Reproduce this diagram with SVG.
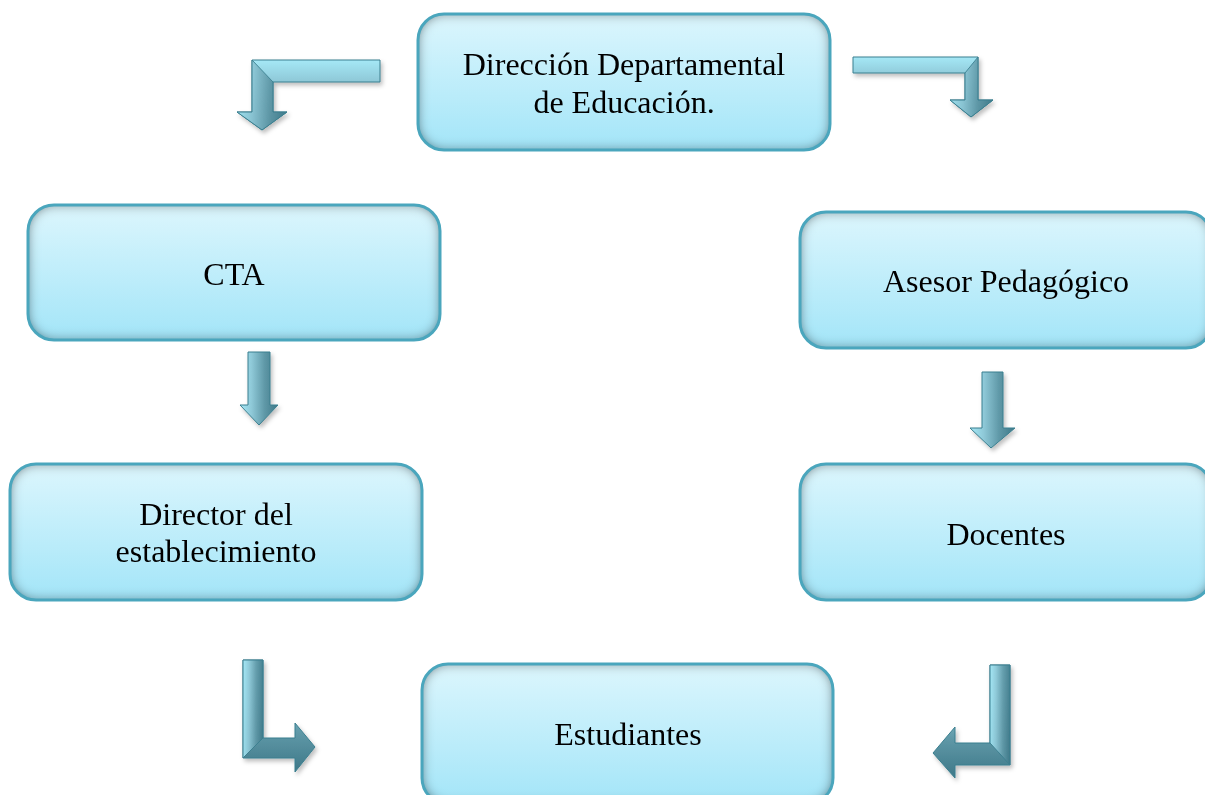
<svg xmlns="http://www.w3.org/2000/svg" width="1205" height="795" viewBox="0 0 1205 795">
<defs>
<style>
.box{fill:url(#bg);filter:url(#inner)}
.edge{fill:none;stroke:#4aa6bd;stroke-width:3}
.lbl{font-family:"Liberation Serif","Times New Roman",serif;font-size:32px;fill:#000;text-anchor:middle}
.arr{stroke:#3b7f8f;stroke-width:1;stroke-linejoin:miter}
</style>
<linearGradient id="bg" x1="0" y1="0" x2="0" y2="1">
<stop offset="0" stop-color="#dcf6fd"/>
<stop offset="1" stop-color="#a3e5f8"/>
</linearGradient>
<linearGradient id="av" x1="0" y1="0" x2="1" y2="0">
<stop offset="0" stop-color="#a5e8f6"/>
<stop offset="0.3" stop-color="#8fc9d8"/>
<stop offset="0.65" stop-color="#5f98a7"/>
<stop offset="1" stop-color="#3e7888"/>
</linearGradient>
<linearGradient id="ah" x1="0" y1="0" x2="0" y2="1">
<stop offset="0" stop-color="#a5e8f6"/>
<stop offset="0.3" stop-color="#8fc9d8"/>
<stop offset="0.65" stop-color="#5f98a7"/>
<stop offset="1" stop-color="#3e7888"/>
</linearGradient>
<filter id="inner" x="-5%" y="-5%" width="110%" height="110%">
<feFlood flood-color="#2c363b" result="c"/>
<feComposite in="c" in2="SourceAlpha" operator="out" result="inv"/>
<feGaussianBlur in="inv" stdDeviation="6" result="blur"/>
<feComposite in="blur" in2="SourceAlpha" operator="in" result="shadow"/>
<feMerge><feMergeNode in="SourceGraphic"/><feMergeNode in="shadow"/></feMerge>
</filter>
<filter id="ds" x="-20%" y="-20%" width="140%" height="140%">
<feDropShadow dx="2" dy="3" stdDeviation="2" flood-color="#000" flood-opacity="0.25"/>
</filter>
</defs>
<rect width="1205" height="795" fill="#fff"/>

<g id="connectors" filter="url(#ds)">
<path class="arr" fill="url(#ah)" d="M380,60 L252,60 L252,112 L237,112 L262,130 L287,112 L273,112 L273,82 L380,82 Z"/>
<path class="arr" fill="url(#av)" d="M252,60 L273,82 L273,112 L287,112 L262,130 L237,112 L252,112 Z" opacity="0.9"/>
<path class="arr" fill="url(#ah)" d="M853,57 L978,57 L978,100 L993,100 L971,117 L950,100 L965,100 L965,73 L853,73 Z"/>
<path class="arr" fill="url(#av)" d="M978,57 L978,100 L993,100 L971,117 L950,100 L965,100 L965,73 Z" opacity="0.9"/>
<path class="arr" fill="url(#av)" d="M248,352 L270,352 L270,405 L278,405 L259,425 L240,405 L248,405 Z"/>
<path class="arr" fill="url(#av)" d="M982,372 L1003,372 L1003,428 L1015,428 L991,448 L970,428 L982,428 Z"/>
<path class="arr" fill="url(#ah)" d="M243,660 L263,660 L263,738 L295,738 L295,723 L315,747 L295,772 L295,758 L243,758 Z"/>
<path class="arr" fill="url(#av)" d="M243,660 L263,660 L263,738 L243,758 Z" opacity="0.9"/>
<path class="arr" fill="url(#ah)" d="M990,665 L1010,665 L1010,765 L955,765 L955,778 L933,753 L955,727 L955,743 L990,743 Z"/>
<path class="arr" fill="url(#av)" d="M990,665 L1010,665 L1010,765 L990,743 Z" opacity="0.9"/>
</g>

<g id="node-direccion">
<rect class="box" x="418" y="14" width="412" height="136" rx="26"/>
<rect class="edge" x="418" y="14" width="412" height="136" rx="26"/>
<text class="lbl" x="624" y="75">Dirección Departamental</text>
<text class="lbl" x="624" y="113">de Educación.</text>
</g>
<g id="node-cta">
<rect class="box" x="28" y="205" width="412" height="135" rx="26"/>
<rect class="edge" x="28" y="205" width="412" height="135" rx="26"/>
<text class="lbl" x="234" y="285">CTA</text>
</g>
<g id="node-asesor">
<rect class="box" x="800" y="212" width="412" height="136" rx="26"/>
<rect class="edge" x="800" y="212" width="412" height="136" rx="26"/>
<text class="lbl" x="1006" y="292">Asesor Pedagógico</text>
</g>
<g id="node-director">
<rect class="box" x="10" y="464" width="412" height="136" rx="26"/>
<rect class="edge" x="10" y="464" width="412" height="136" rx="26"/>
<text class="lbl" x="216" y="525">Director del</text>
<text class="lbl" x="216" y="562">establecimiento</text>
</g>
<g id="node-docentes">
<rect class="box" x="800" y="464" width="412" height="136" rx="26"/>
<rect class="edge" x="800" y="464" width="412" height="136" rx="26"/>
<text class="lbl" x="1006" y="545">Docentes</text>
</g>
<g id="node-estudiantes">
<rect class="box" x="422" y="664" width="411" height="140" rx="26"/>
<rect class="edge" x="422" y="664" width="411" height="140" rx="26"/>
<text class="lbl" x="628" y="745">Estudiantes</text>
</g>
</svg>
